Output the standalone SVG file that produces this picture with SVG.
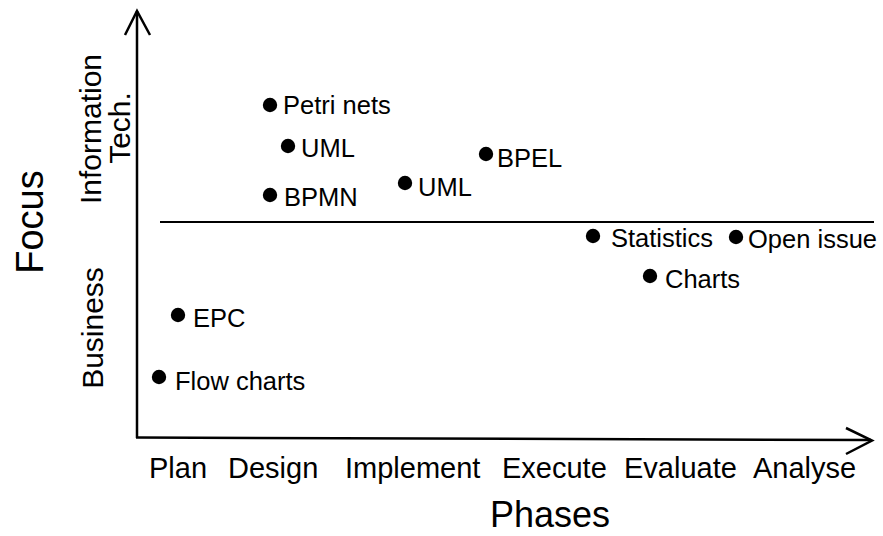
<svg xmlns="http://www.w3.org/2000/svg" width="883" height="536" viewBox="0 0 883 536">
  <style>
    text { font-family: "Liberation Sans", Arial, sans-serif; fill: #000; }
    .axis { stroke: #000; stroke-width: 2.5; fill: none; }
    .tip { stroke: #000; stroke-width: 2.5; fill: none; stroke-linejoin: miter; }
    .divider { stroke: #000; stroke-width: 2; }
    .dot { fill: #000; }
    .lbl { font-size: 25.5px; }
    .phase { font-size: 29px; }
    .side { font-size: 30px; }
  </style>

  <!-- axes and the IT / business divider -->
  <g id="connectors">
    <line class="axis" x1="137" y1="438" x2="137" y2="11"/>
    <polyline class="tip" points="125,35 137,11 150,35"/>
    <line class="axis" x1="136" y1="437.5" x2="871" y2="440"/>
    <polyline class="tip" points="846,428 872,440.5 846,454"/>
    <line class="divider" x1="160" y1="222" x2="874" y2="222"/>
  </g>

  <!-- axis titles -->
  <g id="focus-title">
    <text x="43" y="222" font-size="38" text-anchor="middle" transform="rotate(-90 43 222)">Focus</text>
  </g>
  <g id="it-band">
    <text class="side" text-anchor="middle" transform="translate(101,129) rotate(-90)">Information</text>
    <text class="side" text-anchor="middle" transform="translate(130,128) rotate(-90)">Tech.</text>
  </g>
  <g id="business-band">
    <text class="side" text-anchor="middle" transform="translate(103,328) rotate(-90)">Business</text>
  </g>
  <g id="phases-title">
    <text x="490" y="527" font-size="36">Phases</text>
  </g>
  <g id="phase-ticks">
    <text class="phase" x="149" y="478">Plan</text>
    <text class="phase" x="228" y="478">Design</text>
    <text class="phase" x="345" y="478">Implement</text>
    <text class="phase" x="502" y="478">Execute</text>
    <text class="phase" x="624" y="478">Evaluate</text>
    <text class="phase" x="753" y="478">Analyse</text>
  </g>

  <!-- modelling notations -->
  <g id="petri-nets">
    <circle class="dot" cx="270" cy="105" r="7.2"/>
    <text class="lbl" x="283" y="114">Petri nets</text>
  </g>
  <g id="uml-design">
    <circle class="dot" cx="288" cy="146" r="7.2"/>
    <text class="lbl" x="301" y="157">UML</text>
  </g>
  <g id="bpmn">
    <circle class="dot" cx="270" cy="195" r="7.2"/>
    <text class="lbl" x="284" y="206">BPMN</text>
  </g>
  <g id="uml-implement">
    <circle class="dot" cx="405" cy="183" r="7.2"/>
    <text class="lbl" x="418" y="196">UML</text>
  </g>
  <g id="bpel">
    <circle class="dot" cx="486" cy="154" r="7.2"/>
    <text class="lbl" x="497" y="167">BPEL</text>
  </g>
  <g id="statistics">
    <circle class="dot" cx="593" cy="236" r="7.2"/>
    <text class="lbl" x="611" y="247">Statistics</text>
  </g>
  <g id="open-issue">
    <circle class="dot" cx="736" cy="237" r="7.2"/>
    <text class="lbl" x="748" y="248">Open issue</text>
  </g>
  <g id="charts">
    <circle class="dot" cx="650" cy="276" r="7.2"/>
    <text class="lbl" x="665" y="288">Charts</text>
  </g>
  <g id="epc">
    <circle class="dot" cx="178" cy="315" r="7.2"/>
    <text class="lbl" x="193" y="327">EPC</text>
  </g>
  <g id="flow-charts">
    <circle class="dot" cx="159" cy="377" r="7.2"/>
    <text class="lbl" x="175" y="390">Flow charts</text>
  </g>
</svg>
